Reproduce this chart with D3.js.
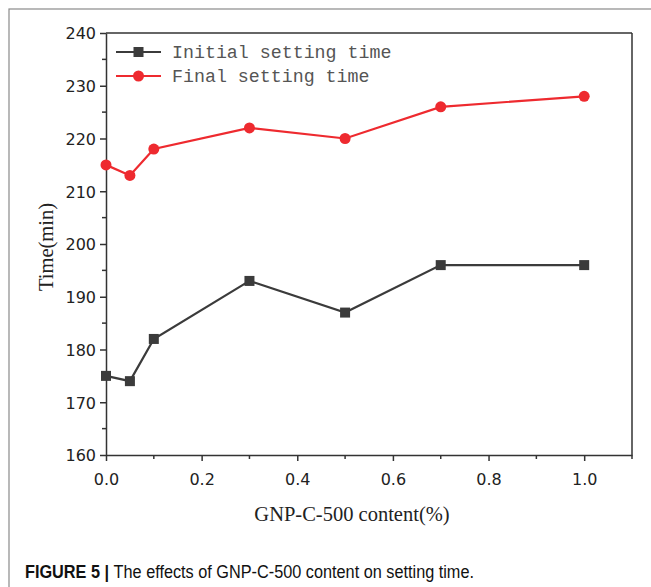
<!DOCTYPE html>
<html><head><meta charset="utf-8">
<script src="https://cdn.jsdelivr.net/npm/d3@7/dist/d3.min.js"></script>
<style>body{margin:0;background:#fff}svg{display:block}</style>
</head><body>
<svg id="c" width="651" height="587"></svg>
<script>
const xValues = [0, 0.05, 0.1, 0.3, 0.5, 0.7, 1.0];
const initialTime = [175, 174, 182, 193, 187, 196, 196];
const finalTime = [215, 213, 218, 222, 220, 226, 228];
const seriesNames = ["Initial setting time", "Final setting time"];
const xTicks = [0, 0.2, 0.4, 0.6, 0.8, 1.0];
const yTicks = [160, 170, 180, 190, 200, 210, 220, 230, 240];

const svg = d3.select("#c");
// figure frame
svg.append("rect").attr("x", 9).attr("y", 9).attr("width", 700).attr("height", 700)
  .attr("fill", "none").attr("stroke", "#8a8a8a").attr("stroke-width", 1.2);

const x = d3.scaleLinear().domain([0, 1.1]).range([106, 632]);
const y = d3.scaleLinear().domain([160, 240]).range([455, 33]);

// minor ticks
const xMinor = d3.range(0.1, 1.15, 0.2);
const yMinor = d3.range(165, 240, 10);
const axisColor = "#333";
const g = svg.append("g");
g.selectAll(".xm").data(xMinor).enter().append("line")
  .attr("x1", d => x(d)).attr("x2", d => x(d)).attr("y1", 455).attr("y2", 459)
  .attr("stroke", axisColor).attr("stroke-width", 1.5);
g.selectAll(".ym").data(yMinor).enter().append("line")
  .attr("x1", 106).attr("x2", 102).attr("y1", d => y(d)).attr("y2", d => y(d))
  .attr("stroke", axisColor).attr("stroke-width", 1.5);

const xAxis = d3.axisBottom(x).tickValues(xTicks).tickFormat(d3.format(".1f")).tickSize(6).tickSizeOuter(0);
const yAxis = d3.axisLeft(y).tickValues(yTicks).tickFormat(d3.format("d")).tickSize(6).tickSizeOuter(0);
const gx = svg.append("g").attr("transform", "translate(0,455)").call(xAxis);
const gy = svg.append("g").attr("transform", "translate(106,0)").call(yAxis);
[gx, gy].forEach(a => {
  a.selectAll("path").attr("stroke", axisColor).attr("stroke-width", 1.5);
  a.selectAll("line").attr("stroke", axisColor).attr("stroke-width", 1.5);
  a.selectAll("text").attr("fill", "#222").style("font-family", "'DejaVu Sans', Verdana, sans-serif").style("font-size", "16px");
});
gx.selectAll("text").attr("dy", "1.3em");
gy.selectAll("text").attr("x", -10).attr("dy", "0.36em");

// frame top/right
svg.append("line").attr("x1", 106).attr("x2", 632).attr("y1", 33).attr("y2", 33).attr("stroke", axisColor).attr("stroke-width", 1.5);
svg.append("line").attr("x1", 632).attr("x2", 632).attr("y1", 33).attr("y2", 455).attr("stroke", axisColor).attr("stroke-width", 1.5);

const black = "#3b3b3b", red = "#ee2a2f";
const line = d3.line().x(d => x(d[0])).y(d => y(d[1]));
const dInit = xValues.map((v, i) => [v, initialTime[i]]);
const dFinal = xValues.map((v, i) => [v, finalTime[i]]);

svg.append("path").datum(dInit).attr("d", line).attr("fill", "none").attr("stroke", black).attr("stroke-width", 2.2);
svg.selectAll(".sq").data(dInit).enter().append("rect")
  .attr("x", d => x(d[0]) - 5).attr("y", d => y(d[1]) - 5).attr("width", 10).attr("height", 10).attr("fill", black);
svg.append("path").datum(dFinal).attr("d", line).attr("fill", "none").attr("stroke", red).attr("stroke-width", 2.2);
svg.selectAll(".ci").data(dFinal).enter().append("circle")
  .attr("cx", d => x(d[0])).attr("cy", d => y(d[1])).attr("r", 5.5).attr("fill", red);

// legend
const lg = svg.append("g");
[[black, 52], [red, 76]].forEach(([c, yy], i) => {
  lg.append("line").attr("x1", 116).attr("x2", 161).attr("y1", yy).attr("y2", yy).attr("stroke", c).attr("stroke-width", 2.2);
  if (i === 0) lg.append("rect").attr("x", 133.5).attr("y", yy - 5).attr("width", 10).attr("height", 10).attr("fill", c);
  else lg.append("circle").attr("cx", 138.5).attr("cy", yy).attr("r", 5.5).attr("fill", c);
  lg.append("text").attr("x", 172).attr("y", yy + 6).text(seriesNames[i])
    .attr("fill", "#555").style("font-family", "'Liberation Mono', monospace").style("font-size", "18.3px");
});

// axis titles
svg.append("text").attr("x", 352).attr("y", 521).attr("text-anchor", "middle").text("GNP-C-500 content(%)")
  .attr("fill", "#222").style("font-family", "'Liberation Serif', 'DejaVu Serif', serif").style("font-size", "20.5px");
svg.append("text").attr("transform", "translate(53,247) rotate(-90)").attr("text-anchor", "middle").text("Time(min)")
  .attr("fill", "#222").style("font-family", "'Liberation Serif', 'DejaVu Serif', serif").style("font-size", "20.5px");

// caption
const cap = svg.append("text").attr("x", 25).attr("y", 578).attr("textLength", 449).attr("lengthAdjust", "spacingAndGlyphs")
  .style("font-family", "'Liberation Sans', Arial, sans-serif").style("font-size", "18px").attr("fill", "#111");
cap.append("tspan").attr("font-weight", "bold").text("FIGURE 5 | ");
cap.append("tspan").text("The effects of GNP-C-500 content on setting time.");
</script>
</body></html>
